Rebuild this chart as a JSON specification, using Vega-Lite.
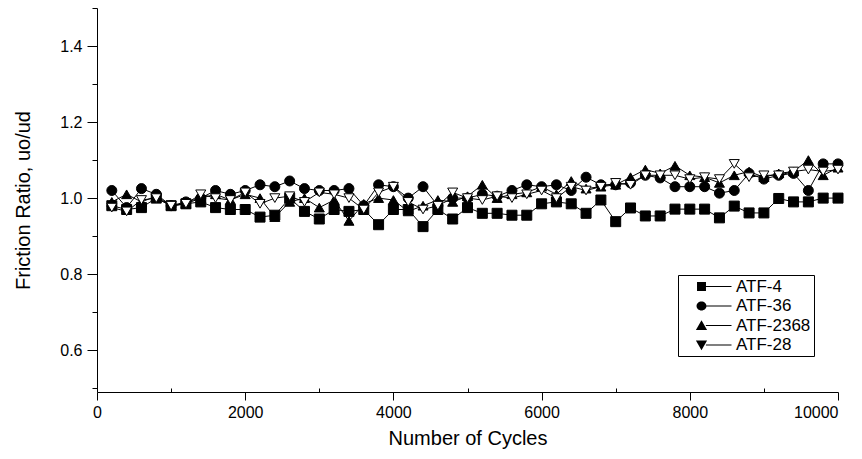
{
  "$schema": "https://vega.github.io/schema/vega-lite/v6.json",
  "width": 741,
  "height": 384,
  "autosize": {"type": "none"},
  "padding": {"left": 97, "top": 8, "right": 24, "bottom": 67},
  "background": "white",
  "config": {
    "view": {"stroke": null},
    "font": "Liberation Sans",
    "axis": {"domainColor": "black", "tickColor": "black", "labelColor": "black", "titleColor": "black", "grid": false, "labelFont": "Liberation Sans", "titleFont": "Liberation Sans", "titleFontWeight": "normal"}
  },
  "datasets": {
    "d": [
      {"series":"ATF-4","cycles":200,"ratio":0.98},{"series":"ATF-4","cycles":400,"ratio":0.97},{"series":"ATF-4","cycles":600,"ratio":0.975},{"series":"ATF-4","cycles":800,"ratio":1.0},{"series":"ATF-4","cycles":1000,"ratio":0.98},
      {"series":"ATF-4","cycles":1200,"ratio":0.985},{"series":"ATF-4","cycles":1400,"ratio":0.99},{"series":"ATF-4","cycles":1600,"ratio":0.975},{"series":"ATF-4","cycles":1800,"ratio":0.97},{"series":"ATF-4","cycles":2000,"ratio":0.97},
      {"series":"ATF-4","cycles":2200,"ratio":0.95},{"series":"ATF-4","cycles":2400,"ratio":0.955},{"series":"ATF-4","cycles":2600,"ratio":1.0},{"series":"ATF-4","cycles":2800,"ratio":0.965},{"series":"ATF-4","cycles":3000,"ratio":0.945},
      {"series":"ATF-4","cycles":3200,"ratio":0.97},{"series":"ATF-4","cycles":3400,"ratio":0.965},{"series":"ATF-4","cycles":3600,"ratio":0.97},{"series":"ATF-4","cycles":3800,"ratio":0.93},{"series":"ATF-4","cycles":4000,"ratio":0.97},
      {"series":"ATF-4","cycles":4200,"ratio":0.97},{"series":"ATF-4","cycles":4400,"ratio":0.925},{"series":"ATF-4","cycles":4600,"ratio":0.97},{"series":"ATF-4","cycles":4800,"ratio":0.945},{"series":"ATF-4","cycles":5000,"ratio":0.975},
      {"series":"ATF-4","cycles":5200,"ratio":0.96},{"series":"ATF-4","cycles":5400,"ratio":0.96},{"series":"ATF-4","cycles":5600,"ratio":0.955},{"series":"ATF-4","cycles":5800,"ratio":0.955},{"series":"ATF-4","cycles":6000,"ratio":0.985},
      {"series":"ATF-4","cycles":6200,"ratio":0.99},{"series":"ATF-4","cycles":6400,"ratio":0.985},{"series":"ATF-4","cycles":6600,"ratio":0.96},{"series":"ATF-4","cycles":6800,"ratio":0.995},{"series":"ATF-4","cycles":7000,"ratio":0.938},
      {"series":"ATF-4","cycles":7200,"ratio":0.974},{"series":"ATF-4","cycles":7400,"ratio":0.953},{"series":"ATF-4","cycles":7600,"ratio":0.953},{"series":"ATF-4","cycles":7800,"ratio":0.971},{"series":"ATF-4","cycles":8000,"ratio":0.971},
      {"series":"ATF-4","cycles":8200,"ratio":0.971},{"series":"ATF-4","cycles":8400,"ratio":0.948},{"series":"ATF-4","cycles":8600,"ratio":0.979},{"series":"ATF-4","cycles":8800,"ratio":0.961},{"series":"ATF-4","cycles":9000,"ratio":0.961},
      {"series":"ATF-4","cycles":9200,"ratio":0.999},{"series":"ATF-4","cycles":9400,"ratio":0.99},{"series":"ATF-4","cycles":9600,"ratio":0.99},{"series":"ATF-4","cycles":9800,"ratio":1.0},{"series":"ATF-4","cycles":10000,"ratio":1.0},

      {"series":"ATF-36","cycles":200,"ratio":1.02},{"series":"ATF-36","cycles":400,"ratio":0.975},{"series":"ATF-36","cycles":600,"ratio":1.025},{"series":"ATF-36","cycles":800,"ratio":1.01},{"series":"ATF-36","cycles":1000,"ratio":0.98},
      {"series":"ATF-36","cycles":1200,"ratio":0.99},{"series":"ATF-36","cycles":1400,"ratio":1.0},{"series":"ATF-36","cycles":1600,"ratio":1.02},{"series":"ATF-36","cycles":1800,"ratio":1.01},{"series":"ATF-36","cycles":2000,"ratio":1.02},
      {"series":"ATF-36","cycles":2200,"ratio":1.035},{"series":"ATF-36","cycles":2400,"ratio":1.03},{"series":"ATF-36","cycles":2600,"ratio":1.045},{"series":"ATF-36","cycles":2800,"ratio":1.025},{"series":"ATF-36","cycles":3000,"ratio":1.02},
      {"series":"ATF-36","cycles":3200,"ratio":1.02},{"series":"ATF-36","cycles":3400,"ratio":1.025},{"series":"ATF-36","cycles":3600,"ratio":0.98},{"series":"ATF-36","cycles":3800,"ratio":1.035},{"series":"ATF-36","cycles":4000,"ratio":1.03},
      {"series":"ATF-36","cycles":4200,"ratio":1.0},{"series":"ATF-36","cycles":4400,"ratio":1.03},{"series":"ATF-36","cycles":4600,"ratio":0.98},{"series":"ATF-36","cycles":4800,"ratio":1.0},{"series":"ATF-36","cycles":5000,"ratio":1.0},
      {"series":"ATF-36","cycles":5200,"ratio":1.01},{"series":"ATF-36","cycles":5400,"ratio":1.005},{"series":"ATF-36","cycles":5600,"ratio":1.02},{"series":"ATF-36","cycles":5800,"ratio":1.035},{"series":"ATF-36","cycles":6000,"ratio":1.03},
      {"series":"ATF-36","cycles":6200,"ratio":1.035},{"series":"ATF-36","cycles":6400,"ratio":1.02},{"series":"ATF-36","cycles":6600,"ratio":1.055},{"series":"ATF-36","cycles":6800,"ratio":1.035},{"series":"ATF-36","cycles":7000,"ratio":1.035},
      {"series":"ATF-36","cycles":7200,"ratio":1.04},{"series":"ATF-36","cycles":7400,"ratio":1.06},{"series":"ATF-36","cycles":7600,"ratio":1.053},{"series":"ATF-36","cycles":7800,"ratio":1.03},{"series":"ATF-36","cycles":8000,"ratio":1.03},
      {"series":"ATF-36","cycles":8200,"ratio":1.03},{"series":"ATF-36","cycles":8400,"ratio":1.013},{"series":"ATF-36","cycles":8600,"ratio":1.02},{"series":"ATF-36","cycles":8800,"ratio":1.065},{"series":"ATF-36","cycles":9000,"ratio":1.05},
      {"series":"ATF-36","cycles":9200,"ratio":1.06},{"series":"ATF-36","cycles":9400,"ratio":1.065},{"series":"ATF-36","cycles":9600,"ratio":1.02},{"series":"ATF-36","cycles":9800,"ratio":1.09},{"series":"ATF-36","cycles":10000,"ratio":1.09},

      {"series":"ATF-2368","cycles":200,"ratio":0.99},{"series":"ATF-2368","cycles":400,"ratio":1.01},{"series":"ATF-2368","cycles":600,"ratio":0.99},{"series":"ATF-2368","cycles":800,"ratio":1.005},{"series":"ATF-2368","cycles":1000,"ratio":0.98},
      {"series":"ATF-2368","cycles":1200,"ratio":0.985},{"series":"ATF-2368","cycles":1400,"ratio":1.0},{"series":"ATF-2368","cycles":1600,"ratio":1.01},{"series":"ATF-2368","cycles":1800,"ratio":0.995},{"series":"ATF-2368","cycles":2000,"ratio":1.01},
      {"series":"ATF-2368","cycles":2200,"ratio":1.0},{"series":"ATF-2368","cycles":2400,"ratio":0.95},{"series":"ATF-2368","cycles":2600,"ratio":0.99},{"series":"ATF-2368","cycles":2800,"ratio":1.0},{"series":"ATF-2368","cycles":3000,"ratio":0.975},
      {"series":"ATF-2368","cycles":3200,"ratio":0.995},{"series":"ATF-2368","cycles":3400,"ratio":0.94},{"series":"ATF-2368","cycles":3600,"ratio":0.985},{"series":"ATF-2368","cycles":3800,"ratio":1.0},{"series":"ATF-2368","cycles":4000,"ratio":0.995},
      {"series":"ATF-2368","cycles":4200,"ratio":0.965},{"series":"ATF-2368","cycles":4400,"ratio":0.98},{"series":"ATF-2368","cycles":4600,"ratio":0.995},{"series":"ATF-2368","cycles":4800,"ratio":0.99},{"series":"ATF-2368","cycles":5000,"ratio":1.005},
      {"series":"ATF-2368","cycles":5200,"ratio":1.035},{"series":"ATF-2368","cycles":5400,"ratio":1.0},{"series":"ATF-2368","cycles":5600,"ratio":1.01},{"series":"ATF-2368","cycles":5800,"ratio":1.015},{"series":"ATF-2368","cycles":6000,"ratio":1.03},
      {"series":"ATF-2368","cycles":6200,"ratio":1.01},{"series":"ATF-2368","cycles":6400,"ratio":1.045},{"series":"ATF-2368","cycles":6600,"ratio":1.025},{"series":"ATF-2368","cycles":6800,"ratio":1.03},{"series":"ATF-2368","cycles":7000,"ratio":1.035},
      {"series":"ATF-2368","cycles":7200,"ratio":1.055},{"series":"ATF-2368","cycles":7400,"ratio":1.075},{"series":"ATF-2368","cycles":7600,"ratio":1.065},{"series":"ATF-2368","cycles":7800,"ratio":1.085},{"series":"ATF-2368","cycles":8000,"ratio":1.06},
      {"series":"ATF-2368","cycles":8200,"ratio":1.055},{"series":"ATF-2368","cycles":8400,"ratio":1.04},{"series":"ATF-2368","cycles":8600,"ratio":1.06},{"series":"ATF-2368","cycles":8800,"ratio":1.07},{"series":"ATF-2368","cycles":9000,"ratio":1.055},
      {"series":"ATF-2368","cycles":9200,"ratio":1.065},{"series":"ATF-2368","cycles":9400,"ratio":1.07},{"series":"ATF-2368","cycles":9600,"ratio":1.1},{"series":"ATF-2368","cycles":9800,"ratio":1.06},{"series":"ATF-2368","cycles":10000,"ratio":1.08},

      {"series":"ATF-28","cycles":200,"ratio":0.975},{"series":"ATF-28","cycles":400,"ratio":0.965},{"series":"ATF-28","cycles":600,"ratio":0.995},{"series":"ATF-28","cycles":800,"ratio":1.0},{"series":"ATF-28","cycles":1000,"ratio":0.98},
      {"series":"ATF-28","cycles":1200,"ratio":0.985},{"series":"ATF-28","cycles":1400,"ratio":1.01},{"series":"ATF-28","cycles":1600,"ratio":1.0},{"series":"ATF-28","cycles":1800,"ratio":0.995},{"series":"ATF-28","cycles":2000,"ratio":1.015},
      {"series":"ATF-28","cycles":2200,"ratio":0.985},{"series":"ATF-28","cycles":2400,"ratio":1.0},{"series":"ATF-28","cycles":2600,"ratio":1.005},{"series":"ATF-28","cycles":2800,"ratio":0.99},{"series":"ATF-28","cycles":3000,"ratio":1.015},
      {"series":"ATF-28","cycles":3200,"ratio":1.01},{"series":"ATF-28","cycles":3400,"ratio":1.0},{"series":"ATF-28","cycles":3600,"ratio":0.97},{"series":"ATF-28","cycles":3800,"ratio":1.015},{"series":"ATF-28","cycles":4000,"ratio":1.03},
      {"series":"ATF-28","cycles":4200,"ratio":0.99},{"series":"ATF-28","cycles":4400,"ratio":0.97},{"series":"ATF-28","cycles":4600,"ratio":0.98},{"series":"ATF-28","cycles":4800,"ratio":1.015},{"series":"ATF-28","cycles":5000,"ratio":1.0},
      {"series":"ATF-28","cycles":5200,"ratio":0.995},{"series":"ATF-28","cycles":5400,"ratio":1.005},{"series":"ATF-28","cycles":5600,"ratio":1.0},{"series":"ATF-28","cycles":5800,"ratio":1.01},{"series":"ATF-28","cycles":6000,"ratio":1.02},
      {"series":"ATF-28","cycles":6200,"ratio":1.0},{"series":"ATF-28","cycles":6400,"ratio":1.03},{"series":"ATF-28","cycles":6600,"ratio":1.02},{"series":"ATF-28","cycles":6800,"ratio":1.03},{"series":"ATF-28","cycles":7000,"ratio":1.04},
      {"series":"ATF-28","cycles":7200,"ratio":1.035},{"series":"ATF-28","cycles":7400,"ratio":1.06},{"series":"ATF-28","cycles":7600,"ratio":1.06},{"series":"ATF-28","cycles":7800,"ratio":1.06},{"series":"ATF-28","cycles":8000,"ratio":1.05},
      {"series":"ATF-28","cycles":8200,"ratio":1.055},{"series":"ATF-28","cycles":8400,"ratio":1.05},{"series":"ATF-28","cycles":8600,"ratio":1.09},{"series":"ATF-28","cycles":8800,"ratio":1.055},{"series":"ATF-28","cycles":9000,"ratio":1.06},
      {"series":"ATF-28","cycles":9200,"ratio":1.06},{"series":"ATF-28","cycles":9400,"ratio":1.07},{"series":"ATF-28","cycles":9600,"ratio":1.075},{"series":"ATF-28","cycles":9800,"ratio":1.07},{"series":"ATF-28","cycles":10000,"ratio":1.075}
    ]
  },
  "data": {"name": "d"},
  "encoding": {
    "x": {
      "field": "cycles", "type": "quantitative",
      "scale": {"domain": [0, 10000], "nice": false},
      "axis": {
        "title": "Number of Cycles", "titleFontSize": 20, "titlePadding": 8,
        "values": [0,1000,2000,3000,4000,5000,6000,7000,8000,9000,10000],
        "labelExpr": "datum.value % 2000 == 0 ? datum.label : ''",
        "format": "d", "labelFontSize": 16, "labelPadding": 4,
        "labelAlign": {"condition": {"test": "datum.value == 10000", "value": "right"}, "value": "center"},
        "tickSize": {"condition": {"test": "datum.value % 2000 == 0", "value": 8}, "value": -4},
        "labelFlush": false, "labelOverlap": false
      }
    },
    "y": {
      "field": "ratio", "type": "quantitative",
      "scale": {"domain": [0.49, 1.5], "nice": false, "zero": false},
      "axis": {
        "title": "Friction Ratio, uo/ud", "titleFontSize": 20, "titlePadding": 26,
        "values": [0.5,0.6,0.7,0.8,0.9,1,1.1,1.2,1.3,1.4,1.5],
        "labelExpr": "indexof([0.6,0.8,1,1.2,1.4], datum.value) >= 0 ? datum.label : ''",
        "format": ".1f", "labelFontSize": 16, "labelPadding": 5,
        "tickSize": {"condition": {"test": "indexof([0.6,0.8,1,1.2,1.4], datum.value) >= 0", "value": 10}, "value": 5},
        "labelFlush": false, "labelOverlap": false
      }
    }
  },
  "resolve": {"scale": {"shape": "independent"}, "legend": {"shape": "independent"}},
  "layer": [
    {
      "mark": {"type": "line", "color": "black", "strokeWidth": 1},
      "encoding": {"detail": {"field": "series"}}
    },
    {
      "mark": {"type": "point", "filled": true, "size": 100, "stroke": "black", "strokeWidth": 1, "opacity": 1},
      "encoding": {
        "shape": {
          "field": "series", "type": "nominal",
          "scale": {"domain": ["ATF-4","ATF-36","ATF-2368","ATF-28"], "range": ["square","circle","triangle-up","triangle-down"]},
          "legend": null
        },
        "fill": {
          "field": "series", "type": "nominal",
          "scale": {"domain": ["ATF-4","ATF-36","ATF-2368","ATF-28"], "range": ["black","black","black","white"]},
          "legend": null
        }
      }
    },
    {
      "transform": [{"filter": "datum.cycles < 0"}],
      "mark": {"type": "point", "filled": true, "color": "black", "strokeWidth": 0},
      "encoding": {
        "shape": {
          "field": "series", "type": "nominal",
          "scale": {"domain": ["ATF-4","ATF-36","ATF-2368","ATF-28"],
            "range": [
              "M-1.56,-0.56H-0.44V0.56H-1.56Z M-0.44,-0.0625H2.75V0.0625H-0.44Z",
              "M-1.62,0A0.62,0.56 0 1,0 -0.38,0A0.62,0.56 0 1,0 -1.62,0Z M-0.38,-0.0625H2.75V0.0625H-0.38Z",
              "M-1,-0.66L-0.3,0.56L-1.7,0.56Z M-0.45,-0.0625H2.75V0.0625H-0.45Z",
              "M-1,0.66L-0.3,-0.56L-1.7,-0.56Z M-0.45,-0.0625H2.75V0.0625H-0.45Z"
            ]},
          "legend": {
            "title": null, "orient": "none", "legendX": 581, "legendY": 267,
            "strokeColor": "black", "padding": 3, "fillColor": "white",
            "symbolSize": 256, "symbolOffset": 20, "labelFontSize": 17, "labelFont": "Liberation Sans", "labelColor": "black",
            "labelOffset": 18, "rowPadding": 1.5, "symbolStrokeWidth": 0, "symbolFillColor": "black", "symbolOpacity": 1
          }
        }
      }
    }
  ]
}
